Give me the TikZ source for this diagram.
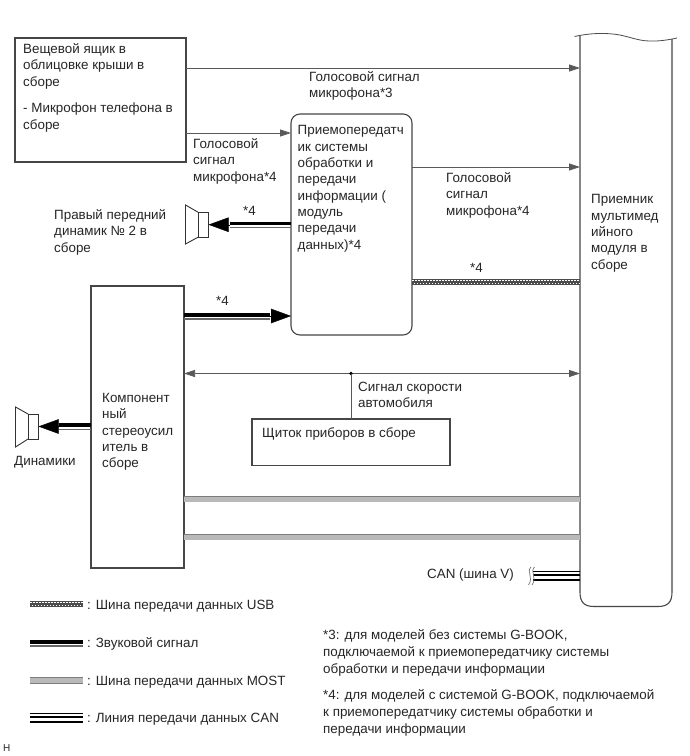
\documentclass[tikz,border=0pt]{standalone}
\usepackage{fontspec}
\setmainfont{Liberation Sans}
\usetikzlibrary{arrows.meta}
\definecolor{gline}{RGB}{70,70,70}
\definecolor{mostfill}{RGB}{185,185,185}
\definecolor{mostedge}{RGB}{125,125,125}
\tikzset{
 x=1pt,y=-1pt,
 box/.style={draw=gline,line width=1.1pt,fill=white,inner sep=0pt,outer sep=0pt,anchor=north west},
 ghost/.style={inner sep=0pt,outer sep=0pt,anchor=north west},
 lbl/.style={anchor=west,inner sep=0pt,align=left,font=\fontsize{13.4}{16.3}\selectfont,text=black!85},
 sig/.style={draw=black!65,line width=0.75pt},
 tip/.style={-{Triangle[length=11pt,width=7pt]}},
 bothtip/.style={{Triangle[length=11pt,width=7pt]}-{Triangle[length=11pt,width=7pt]}},
 spk/.style={draw=black!80,line width=0.9pt,fill=white,inner sep=0pt,outer sep=0pt,minimum width=10.5pt,minimum height=25pt},
}
\newcommand\soundline[2]{%
 \draw[black,line width=3.8pt] ([yshift=1.3pt]#1) -- ([yshift=1.3pt]#2);
 \draw[black!60,line width=1.5pt] ([yshift=-3pt]#1) -- ([yshift=-3pt]#2);}
\newcommand\soundhead[2]{%
 \draw[black,line width=0.4pt,-{Triangle[length=20pt,width=14.5pt]}] (#1) -- (#2);}
\newcommand\mostline[2]{%
 \draw[draw=mostedge,line width=0.8pt,double=mostfill,double distance=4.6pt] (#1) -- (#2);}
\newcommand\usbline[2]{%
 \draw[black!70,line width=5.2pt] (#1) -- (#2);
 \draw[white,line width=1.2pt,dash pattern=on 1.5pt off 1.5pt] ([yshift=1.2pt]#1) -- ([yshift=1.2pt]#2);
 \draw[white,line width=1.2pt,dash pattern=on 1.5pt off 1.5pt,dash phase=1.5pt] ([yshift=-1.2pt]#1) -- ([yshift=-1.2pt]#2);}
\newcommand\canline[2]{%
 \draw[black,line width=1.3pt] (#1) -- (#2);
 \draw[black,line width=1.8pt] ([yshift=-3.7pt]#1) -- ([yshift=-3.7pt]#2);
 \draw[black,line width=2.4pt] ([yshift=-8.5pt]#1) -- ([yshift=-8.5pt]#2);}
\begin{document}
\begin{tikzpicture}
\useasboundingbox (0,0) rectangle (689,756);
\fill[white] (0,0) rectangle (689,756);

% receiver
\node[ghost,minimum width=92pt,minimum height=568pt] (R) at (580,38) {};
\draw[gline,line width=1.1pt] (580,35.5) -- (580,592)
  .. controls (580,602) and (584,606.5) .. (594,606.5) -- (658,606.5)
  .. controls (668,606.5) and (672,602) .. (672,592) -- (672,39);
\draw[black!70,line width=0.8pt] (574.5,36.5) .. controls (590,33) and (606,32.5) .. (620,35)
  .. controls (634,38) and (640,41.5) .. (654,41) .. controls (662,41) and (670,39.5) .. (677,38);

% boxes
\node[box,minimum width=171pt,minimum height=124pt] (A) at (15,38) {};
\node[box,rounded corners=9pt,minimum width=121pt,minimum height=221pt] (B) at (291,114) {};
\node[box,minimum width=93pt,minimum height=282pt] (C) at (91,286) {};
\node[box,minimum width=198pt,minimum height=46.5pt] (D) at (252,419) {};

% speakers
\node[spk] (S1) at (203.3,224.7) {};
\draw[black!80,line width=0.9pt] (S1.north west) -- (185.5,205) -- (185.5,244) -- (S1.south west);
\node[spk] (S2) at (33.3,426.5) {};
\draw[black!80,line width=0.9pt] (S2.north west) -- (15.5,407) -- (15.5,447) -- (S2.south west);

% thin signals
\draw[sig,tip] (A.east |- 0,68) -- (R.west |- 0,68);
\draw[sig,tip] (A.east |- 0,133) -- (B.west |- 0,133);
\draw[sig,tip] (B.east |- 0,167) -- (R.west |- 0,167);
\draw[sig,bothtip] (C.east |- 0,373.5) -- (R.west |- 0,373.5);
\coordinate (J) at (351,373.5);
\fill[black] (J) circle (1.8pt);
\draw[sig] (J) -- (D.north -| J);

% sound arrows
\coordinate (b1) at (230,224.7);
\soundline{B.west |- 0,224.7}{b1}
\soundhead{b1}{S1.east}
\coordinate (b2) at (270,316);
\soundline{C.east |- 0,316}{b2}
\soundhead{b2}{B.west |- 0,316}
\coordinate (b3) at (59,426.5);
\soundline{C.west |- 0,426.5}{b3}
\soundhead{b3}{S2.east}

% buses
\usbline{B.east |- 0,282}{R.west |- 0,282}
\mostline{C.east |- 0,499.3}{R.west |- 0,499.3}
\mostline{C.east |- 0,537.3}{R.west |- 0,537.3}
\coordinate (canfree) at (533,571.5);
\canline{canfree}{R.west |- 0,571.5}
\draw[black!55,line width=0.7pt] (531,567) .. controls (526,572) and (534,577) .. (528.5,585);
\draw[black!55,line width=0.7pt] (534.5,567) .. controls (529.5,572) and (537.5,577) .. (532,585);

% box texts
\node[lbl] (tA1) at (23,49.5) {Вещевой ящик в};
\node[lbl] (tA2) at (23,66) {облицовке крыши в};
\node[lbl] (tA3) at (23,82.5) {сборе};
\node[lbl] (tA4) at (23,109) {- Микрофон телефона в};
\node[lbl] (tA5) at (23,125.5) {сборе};
\node[lbl,anchor=north west] (tB) at (297.5,125.5) {Приемопередатч\\ик системы\\обработки и\\передачи\\информации (\\модуль\\передачи\\данных)*4};
\node[lbl,anchor=north west] (tR) at (591,194.5) {Приемник\\мультимед\\ийного\\модуля в\\сборе};
\node[lbl,anchor=north west] (tC) at (102,393) {Компонент\\ный\\стереоусил\\итель в\\сборе};
\node[lbl] (tD) at (262,433.5) {Щиток приборов в сборе};

% labels
\node[lbl,anchor=north west] (l1) at (309,71) {Голосовой сигнал\\микрофона*3};
\node[lbl,anchor=north west] (l2) at (193,138.5) {Голосовой\\сигнал\\микрофона*4};
\node[lbl,anchor=north west] (l3) at (446,172.5) {Голосовой\\сигнал\\микрофона*4};
\node[lbl,anchor=north west] (l4) at (54,209.5) {Правый передний\\динамик № 2 в\\сборе};
\node[lbl] (s1) at (243,210.5) {*4};
\node[lbl] (s2) at (216,300.5) {*4};
\node[lbl] (s3) at (470,267.5) {*4};
\node[lbl,anchor=north west] (l5) at (358,381.5) {Сигнал скорости\\автомобиля};
\node[lbl] (l6) at (14,462.5) {Динамики};
\node[lbl] (l7) at (427,575) {CAN (шина V)};

% legend
\coordinate (la1) at (30,604); \coordinate (la2) at (83,604);
\usbline{la1}{la2}
\node[lbl] (lt1) at (87,606) {: Шина передачи данных USB};
\coordinate (lb1) at (30,643); \coordinate (lb2) at (83,643);
\soundline{lb1}{lb2}
\node[lbl] (lt2) at (87,644) {: Звуковой сигнал};
\coordinate (lc1) at (30,680.5); \coordinate (lc2) at (83,680.5);
\mostline{lc1}{lc2}
\node[lbl] (lt3) at (87,682.5) {: Шина передачи данных MOST};
\coordinate (ld1) at (30,713.3); \coordinate (ld2) at (83,713.3);
\canline{ld1}{ld2}
\node[lbl] (lt4) at (87,719) {: Линия передачи данных CAN};

% notes
\node[lbl,anchor=north west,font=\fontsize{13.4}{17}\selectfont] (n3) at (323,629) {*3: для моделей без системы G-BOOK,\\подключаемой к приемопередатчику системы\\обработки и передачи информации};
\node[lbl,anchor=north west,font=\fontsize{13.4}{17}\selectfont] (n4) at (323,689) {*4: для моделей с системой G-BOOK, подключаемой\\к приемопередатчику системы обработки и\\передачи информации};
\node[lbl,font=\fontsize{10}{12}\selectfont] (h) at (3,748) {H};
\end{tikzpicture}
\end{document}
